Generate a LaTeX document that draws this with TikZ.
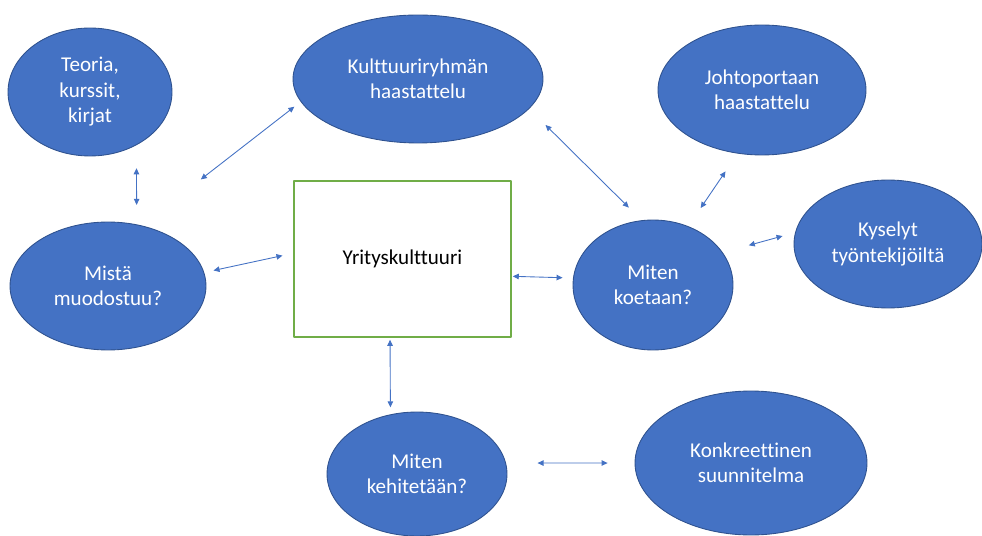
\documentclass[tikz,border=0pt]{standalone}
\usepackage{fontspec}
\setmainfont{Carlito}[Ligatures=NoCommon]
\usetikzlibrary{shapes.geometric,arrows.meta}
\definecolor{officeblue}{HTML}{4472C4}
\definecolor{darkblue}{HTML}{2F528F}
\definecolor{officegreen}{HTML}{70AD47}
\begin{document}
\begin{tikzpicture}[x=0.02cm,y=-0.02cm,line join=round,
	font=\fontsize{12}{14.5}\selectfont,
	bubble/.style={ellipse,fill=officeblue,draw=darkblue,line width=0.5pt,
		text=white,align=center,inner sep=0pt},
	topic/.style={rectangle,draw=officegreen,line width=0.9pt,fill=white,
		minimum width=4.34cm,minimum height=3.12cm},
	link/.style={officeblue,line width=0.5pt,
		{Triangle[length=1.2mm,width=1.1mm]}-{Triangle[length=1.2mm,width=1.1mm]}}]
	\useasboundingbox (0,0) rectangle (982,536);
	% pallot
	\node[bubble,minimum width=3.28cm,minimum height=2.56cm] (teoria) at (90,92) {Teoria,\\kurssit,\\kirjat};
	\node[bubble,minimum width=5.0cm,minimum height=2.56cm] (kultt) at (418,79) {Kulttuuriryhmän\\haastattelu};
	\node[bubble,minimum width=4.16cm,minimum height=2.6cm] (johto) at (762,90) {Johtoportaan\\haastattelu};
	\node[bubble,minimum width=3.76cm,minimum height=2.56cm] (kysely) at (888,244) {Kyselyt\\työntekijöiltä};
	\node[bubble,minimum width=3.92cm,minimum height=2.56cm] (mista) at (108,286) {Mistä\\muodostuu?};
	\node[bubble,minimum width=3.2cm,minimum height=2.6cm] (koetaan) at (653,285) {Miten\\koetaan?};
	\node[bubble,minimum width=3.6cm,minimum height=2.48cm] (kehit) at (417,474) {Miten\\kehitetään?};
	\node[bubble,minimum width=4.64cm,minimum height=2.88cm] (konk) at (751,463) {Konkreettinen\\suunnitelma};
	\node[topic] (yritys) at (402.5,259) {Yrityskulttuuri};
	% nuolet
	\foreach \a/\b/\sa/\sb in {
		teoria.-49/mista.65.4/0.46/0.39,
		mista.61.7/kultt.191.2/1.5/0.16,
		mista.8.4/yritys.177.9/0.19/0.22,
		kultt.-15/koetaan.100.8/0.46/0.36,
		johto.-111.5/koetaan.59.4/0.43/0.44,
		koetaan.25.8/kysely.173.1/0.54/0.26,
		yritys.-9.9/koetaan.175/0.02/0.21,
		yritys.-99.1/kehit.114.6/0.04/0.14,
		kehit.7.1/konk.180/0.63/0.54
	}{\draw[link,shorten <=\sa cm,shorten >=\sb cm] (\a) -- (\b);}
\end{tikzpicture}
\end{document}
